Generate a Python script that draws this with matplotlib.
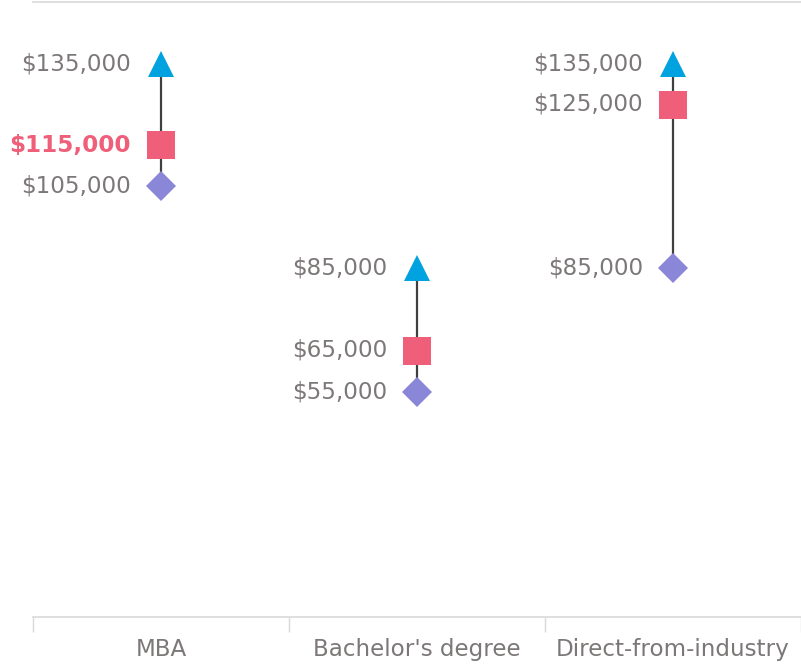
import matplotlib
matplotlib.use("Agg")
import matplotlib.pyplot as plt
from matplotlib.transforms import offset_copy

categories = ["MBA", "Bachelor's degree", "Direct-from-industry"]
high_values = [135000, 85000, 135000]
mid_values = [115000, 65000, 125000]
low_values = [105000, 55000, 85000]
highlight = ("MBA", "mid")

C_HIGH = "#00A3DF"
C_MID = "#EF5F7A"
C_LOW = "#8A86D8"
C_TEXT = "#7D7878"
C_LINE = "#404040"
C_AXIS = "#D9D9D9"

plt.rcParams['font.family'] = ['DejaVu Sans']

fig = plt.figure(figsize=(8.01, 6.70), dpi=100)
ax = fig.add_axes([33/801, 1 - 617/670, 768/801, 615/670])

x = list(range(len(categories)))
ax.set_xlim(-0.5, len(categories) - 0.5)
ax.set_ylim(0, 150000)

for i, cat in enumerate(categories):
    ax.plot([i, i], [low_values[i], high_values[i]], color=C_LINE, lw=1.6, zorder=1)
ax.plot(x, high_values, ls="none", marker="^", ms=19, color=C_HIGH, mew=0, zorder=3)
ax.plot(x, mid_values, ls="none", marker="s", ms=19.5, color=C_MID, mew=0, zorder=3)
ax.plot(x, low_values, ls="none", marker="D", ms=15.5, color=C_LOW, mew=0, zorder=3)

trans = offset_copy(ax.transData, fig=fig, x=-30, y=0, units="dots")
for i, cat in enumerate(categories):
    for kind, vals in (("high", high_values), ("mid", mid_values), ("low", low_values)):
        v = vals[i]
        bold = (cat, kind) == highlight
        ax.text(i, v, f"${v:,.0f}", transform=trans, ha="right", va="center",
                fontsize=16.6, color=C_MID if bold else C_TEXT,
                fontweight="bold" if bold else "normal")

ax.set_yticks([])
ax.set_xticks([i - 0.5 for i in range(len(categories) + 1)], minor=False)
ax.set_xticklabels([])
ax.set_xticks(x, minor=True)
ax.set_xticklabels(categories, minor=True)
ax.tick_params(axis="x", which="major", length=11, width=1, color=C_AXIS)
ax.tick_params(axis="x", which="minor", length=0, pad=15, labelsize=16.6, labelcolor=C_TEXT)

for side in ("left", "right"):
    ax.spines[side].set_visible(False)
ax.spines["bottom"].set_color(C_AXIS)
ax.spines["bottom"].set_linewidth(1.2)
ax.spines["top"].set_color(C_AXIS)
ax.spines["top"].set_linewidth(1.2)

fig.savefig("out.png", dpi=100)
